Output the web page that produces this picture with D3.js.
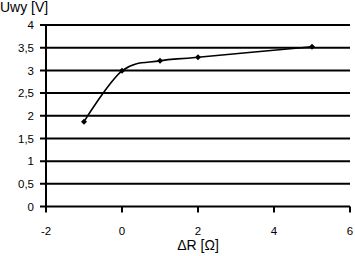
<!DOCTYPE html>
<html><head><meta charset="utf-8">
<script src="https://cdn.jsdelivr.net/npm/d3@7"></script>
<style>body{margin:0;background:#fff}svg{display:block}text{font-family:"Liberation Sans",Arial,sans-serif;fill:#000}</style>
</head><body><svg id="c" width="355" height="256"></svg>
<script>
const xValues = [-1, 0, 1, 2, 5];
const yValues = [1.87, 2.99, 3.21, 3.29, 3.52];
const xTicks = [-2, 0, 2, 4, 6];
const yTicks = [0, 0.5, 1, 1.5, 2, 2.5, 3, 3.5, 4];
const yLabel = "Uwy [V]";
const xLabel = "ΔR [Ω]";

const svg = d3.select("#c");
const x = d3.scaleLinear().domain([-2, 6]).range([46, 350]);
const y = d3.scaleLinear().domain([0, 4]).range([206.5, 25]);
const fmt = d => String(d).replace(".", ",");

svg.append("g").selectAll("line").data(yTicks).join("line")
  .attr("x1", 40).attr("x2", 350)
  .attr("y1", d => y(d)).attr("y2", d => y(d))
  .attr("stroke", "#000").attr("stroke-width", 2);

svg.append("line").attr("x1", x(-2)).attr("x2", x(-2))
  .attr("y1", y(4)).attr("y2", y(0) + 1).attr("stroke", "#000").attr("stroke-width", 2);

svg.append("g").selectAll("line").data(xTicks).join("line")
  .attr("x1", d => x(d)).attr("x2", d => x(d))
  .attr("y1", y(0)).attr("y2", y(0) + 6)
  .attr("stroke", "#000").attr("stroke-width", 2);

svg.append("g").selectAll("text").data(yTicks).join("text")
  .attr("x", 34).attr("y", d => y(d) + 4.2)
  .attr("text-anchor", "end").attr("font-size", 11.5).text(fmt);

svg.append("g").selectAll("text").data(xTicks).join("text")
  .attr("x", d => x(d)).attr("y", 235)
  .attr("text-anchor", "middle").attr("font-size", 11.5).text(fmt);

svg.append("text").attr("x", 0).attr("y", 12).attr("font-size", 14).text(yLabel);
svg.append("text").attr("x", 198).attr("y", 250).attr("text-anchor", "middle").attr("font-size", 14).text(xLabel);

const pts = xValues.map((v, i) => [x(v), y(yValues[i])]);
svg.append("path").attr("d", d3.line().curve(d3.curveCardinal.tension(0))(pts))
  .attr("fill", "none").attr("stroke", "#000").attr("stroke-width", 1.6);

svg.append("g").selectAll("path").data(pts).join("path")
  .attr("transform", d => `translate(${d[0]},${d[1]})`)
  .attr("d", "M0,-3L3,0L0,3L-3,0Z").attr("fill", "#000");
</script></body></html>
